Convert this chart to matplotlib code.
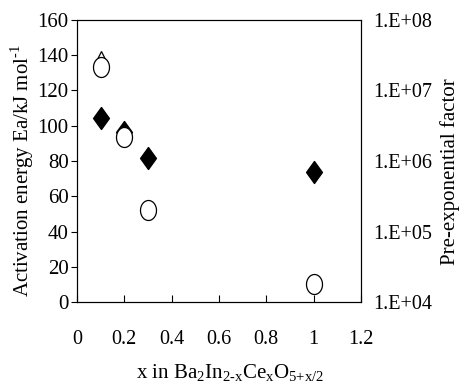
import matplotlib
matplotlib.use("Agg")
import matplotlib.pyplot as plt
from matplotlib.path import Path
import numpy as np

plt.rcParams['font.family'] = ['Liberation Serif', 'DejaVu Serif']
plt.rcParams['mathtext.fontset'] = 'custom'
plt.rcParams['mathtext.rm'] = 'Liberation Serif'

# Data
x_ea = [0.1, 0.2, 0.3, 1.0]
ea = [104.2, 96.6, 81.5, 73.9]            # activation energy, kJ/mol
x_pre = [0.1, 0.2, 0.3, 1.0]
pre = [2.18e7, 2.21e6, 2.02e5, 1.8e4]     # pre-exponential factor
x_tri = [0.1]
ea_tri = [138.0]

xticks = [0, 0.2, 0.4, 0.6, 0.8, 1.0, 1.2]
xticklabels = ["0", "0.2", "0.4", "0.6", "0.8", "1", "1.2"]
yticks = [0, 20, 40, 60, 80, 100, 120, 140, 160]
rticks = [1e4, 1e5, 1e6, 1e7, 1e8]
rticklabels = ["1.E+04", "1.E+05", "1.E+06", "1.E+07", "1.E+08"]

# custom markers (tall diamond and ellipse)
diamond = Path([(0, 1), (0.72, 0), (0, -1), (-0.72, 0), (0, 1)],
               [Path.MOVETO, Path.LINETO, Path.LINETO, Path.LINETO, Path.CLOSEPOLY])
t = np.linspace(0, 2 * np.pi, 60)
ellipse = Path(np.column_stack([0.8 * np.cos(t), np.sin(t)]))

fig = plt.figure(figsize=(4.61, 3.86), dpi=100)
ax = fig.add_axes([0.167, 0.2176, 0.616, 0.7306])

ax.plot(x_tri, ea_tri, linestyle='none', marker='^', markersize=11,
        markerfacecolor='white', markeredgecolor='black', markeredgewidth=0.9, zorder=2)
ax.plot(x_ea, ea, linestyle='none', marker=diamond, markersize=15.8,
        markerfacecolor='black', markeredgecolor='black', zorder=3)

ax.set_xlim(0, 1.2)
ax.set_ylim(0, 160)
ax.set_xticks(xticks)
ax.set_xticklabels(xticklabels)
ax.set_yticks(yticks)
ax.tick_params(axis='x', direction='in', length=5, width=0.8, labelsize=14.5, pad=20)
ax.tick_params(axis='y', direction='out', length=4, width=0.8, labelsize=15, pad=2)
ax.set_ylabel("Activation energy Ea/kJ mol$^{\\text{-1}}$", fontsize=15)
ax.yaxis.set_label_coords(-0.145, 0.468)
ax.set_xlabel(r"x in Ba$_\text{2}$In$_\text{2-x}$Ce$_\text{x}$O$_\text{5+x/2}$",
              fontsize=15)
ax.xaxis.set_label_coords(0.54, -0.215)

ax2 = ax.twinx()
ax2.set_yscale('log')
ax2.set_ylim(1e4, 1e8)
ax2.plot(x_pre, pre, linestyle='none', marker=ellipse, markersize=14.4,
         markerfacecolor='white', markeredgecolor='black', markeredgewidth=0.9, zorder=4)
ax2.set_yticks(rticks)
ax2.set_yticklabels(rticklabels)
ax2.yaxis.set_minor_locator(matplotlib.ticker.NullLocator())
ax2.tick_params(axis='y', length=0, labelsize=14.5, pad=9)
ax2.set_ylabel("Pre-exponential factor", fontsize=15)
ax2.yaxis.set_label_coords(1.28, 0.463)

for a in (ax, ax2):
    for s in a.spines.values():
        s.set_linewidth(0.8)

fig.savefig("out.png", dpi=100)
